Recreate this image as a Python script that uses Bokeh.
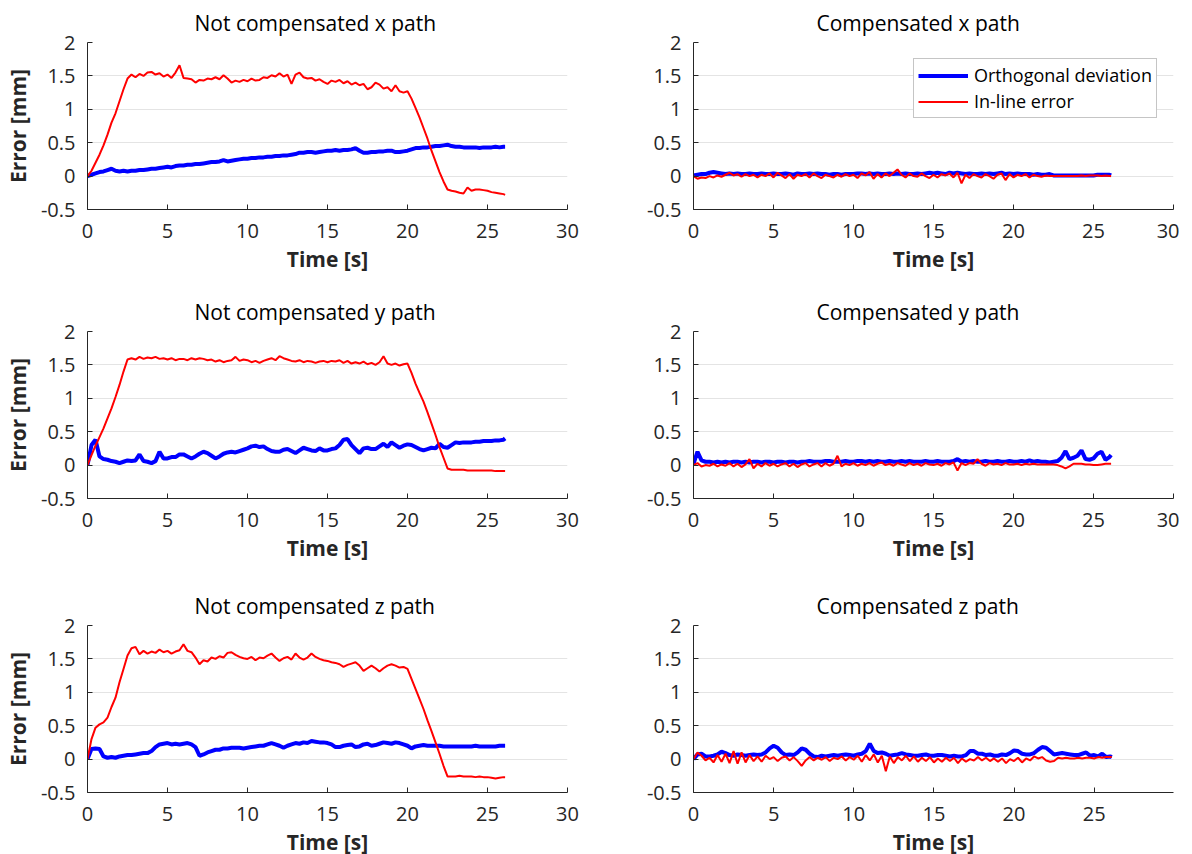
from bokeh.plotting import figure
from bokeh.layouts import column, row
from bokeh.models import Range1d, FixedTicker
from bokeh.embed import file_html
from bokeh.resources import INLINE

T = [0.0, 0.25, 0.5, 0.75, 1.0, 1.25, 1.5, 1.75, 2.0, 2.25, 2.5, 2.75,
     3.0, 3.25, 3.5, 3.75, 4.0, 4.25, 4.5, 4.75, 5.0, 5.25, 5.5, 5.75,
     6.0, 6.25, 6.5, 6.75, 7.0, 7.25, 7.5, 7.75, 8.0, 8.25, 8.5, 8.75,
     9.0, 9.25, 9.5, 9.75, 10.0, 10.25, 10.5, 10.75, 11.0, 11.25, 11.5, 11.75,
     12.0, 12.25, 12.5, 12.75, 13.0, 13.25, 13.5, 13.75, 14.0, 14.25, 14.5, 14.75,
     15.0, 15.25, 15.5, 15.75, 16.0, 16.25, 16.5, 16.75, 17.0, 17.25, 17.5, 17.75,
     18.0, 18.25, 18.5, 18.75, 19.0, 19.25, 19.5, 19.75, 20.0, 20.25, 20.5, 20.75,
     21.0, 21.25, 21.5, 21.75, 22.0, 22.25, 22.5, 22.75, 23.0, 23.25, 23.5, 23.75,
     24.0, 24.25, 24.5, 24.75, 25.0, 25.25, 25.5, 25.75, 26.0, 26.1]

X_TICKS = [0, 5, 10, 15, 20, 25, 30]
X_TICKS_LAST = [0, 5, 10, 15, 20, 25]
Y_TICKS = [-0.5, 0, 0.5, 1, 1.5, 2]
Y_LABELS = {-0.5: "-0.5", 0: "0", 0.5: "0.5", 1: "1", 1.5: "1.5", 2: "2"}

TITLES = ["Not compensated x path", "Compensated x path",
          "Not compensated y path", "Compensated y path",
          "Not compensated z path", "Compensated z path"]
SERIES_NAMES = ["Orthogonal deviation", "In-line error"]

# Not compensated x
nx_orth = [0.00, 0.02, 0.04, 0.06, 0.07, 0.09, 0.11, 0.08, 0.07, 0.08, 0.07, 0.08,
           0.08, 0.09, 0.09, 0.10, 0.11, 0.11, 0.12, 0.13, 0.14, 0.13, 0.15, 0.16,
           0.16, 0.17, 0.17, 0.18, 0.18, 0.19, 0.20, 0.21, 0.21, 0.22, 0.24, 0.22,
           0.23, 0.24, 0.25, 0.26, 0.26, 0.27, 0.27, 0.28, 0.28, 0.29, 0.29, 0.30,
           0.30, 0.31, 0.31, 0.32, 0.33, 0.35, 0.35, 0.36, 0.36, 0.35, 0.36, 0.37,
           0.38, 0.38, 0.39, 0.38, 0.39, 0.39, 0.40, 0.42, 0.38, 0.35, 0.35, 0.36,
           0.36, 0.37, 0.37, 0.38, 0.38, 0.36, 0.36, 0.37, 0.38, 0.40, 0.42, 0.42,
           0.43, 0.43, 0.44, 0.45, 0.45, 0.46, 0.47, 0.45, 0.44, 0.44, 0.43, 0.43,
           0.43, 0.43, 0.42, 0.43, 0.43, 0.43, 0.44, 0.43, 0.44, 0.44]
nx_inline = [0.00, 0.08, 0.20, 0.32, 0.46, 0.62, 0.80, 0.94, 1.12, 1.30, 1.46, 1.52,
             1.48, 1.53, 1.50, 1.55, 1.56, 1.52, 1.54, 1.49, 1.52, 1.47, 1.55, 1.66,
             1.47, 1.46, 1.45, 1.40, 1.44, 1.43, 1.46, 1.45, 1.48, 1.45, 1.51, 1.46,
             1.40, 1.43, 1.41, 1.44, 1.42, 1.46, 1.43, 1.44, 1.48, 1.47, 1.51, 1.49,
             1.54, 1.49, 1.52, 1.38, 1.52, 1.55, 1.48, 1.46, 1.47, 1.43, 1.45, 1.41,
             1.38, 1.43, 1.41, 1.44, 1.39, 1.42, 1.37, 1.40, 1.36, 1.38, 1.30, 1.33,
             1.40, 1.37, 1.31, 1.33, 1.27, 1.36, 1.27, 1.25, 1.27, 1.16, 1.02, 0.88,
             0.72, 0.56, 0.38, 0.22, 0.06, -0.08, -0.20, -0.22, -0.23, -0.25, -0.26, -0.17,
             -0.22, -0.20, -0.20, -0.21, -0.22, -0.24, -0.25, -0.26, -0.27, -0.28]

# Compensated x
cx_orth = [0.01, 0.02, 0.03, 0.03, 0.05, 0.06, 0.05, 0.04, 0.03, 0.04, 0.03, 0.04,
           0.03, 0.03, 0.04, 0.03, 0.03, 0.04, 0.03, 0.03, 0.04, 0.03, 0.03, 0.04,
           0.03, 0.02, 0.04, 0.03, 0.03, 0.04, 0.03, 0.04, 0.03, 0.03, 0.02, 0.03,
           0.03, 0.02, 0.03, 0.03, 0.03, 0.04, 0.04, 0.03, 0.04, 0.03, 0.04, 0.03,
           0.03, 0.04, 0.03, 0.04, 0.03, 0.04, 0.03, 0.03, 0.04, 0.03, 0.04, 0.05,
           0.04, 0.05, 0.04, 0.03, 0.05, 0.04, 0.05, 0.04, 0.03, 0.04, 0.03, 0.03,
           0.04, 0.03, 0.04, 0.03, 0.04, 0.05, 0.03, 0.04, 0.03, 0.04, 0.03, 0.03,
           0.03, 0.02, 0.03, 0.02, 0.02, 0.03, 0.01, 0.01, 0.01, 0.01, 0.01, 0.01,
           0.01, 0.01, 0.01, 0.01, 0.01, 0.02, 0.02, 0.02, 0.02, 0.01]
cx_inline = [0.00, -0.04, -0.02, -0.03, 0.00, -0.02, 0.01, -0.01, 0.02, 0.05, 0.01, 0.03,
             -0.01, 0.03, 0.00, 0.02, -0.02, 0.02, 0.00, 0.04, -0.02, 0.05, 0.01, -0.03,
             0.03, -0.04, 0.02, 0.00, 0.03, -0.02, 0.04, 0.00, -0.03, 0.02, 0.00, -0.02,
             0.02, -0.01, 0.03, 0.00, 0.02, -0.03, 0.04, 0.01, 0.06, -0.04, 0.03, -0.02,
             0.04, 0.00, 0.05, 0.10, 0.02, -0.02, 0.04, 0.00, -0.01, 0.04, 0.00, -0.03,
             0.02, -0.02, 0.03, 0.01, 0.04, -0.02, 0.05, -0.11, 0.02, -0.03, 0.03, 0.00,
             -0.02, 0.03, 0.00, -0.04, 0.02, 0.04, -0.06, 0.03, -0.02, 0.02, 0.00, 0.03,
             -0.02, 0.02, 0.00, -0.01, 0.01, 0.00, 0.00, 0.00, 0.00, 0.00, 0.00, 0.00,
             0.00, 0.01, 0.00, 0.01, 0.01, 0.01, 0.00, 0.01, 0.00, 0.00]

# Not compensated y
ny_orth = [0.00, 0.30, 0.38, 0.13, 0.09, 0.08, 0.06, 0.05, 0.03, 0.05, 0.07, 0.06,
           0.07, 0.16, 0.06, 0.05, 0.03, 0.06, 0.20, 0.10, 0.10, 0.12, 0.12, 0.16,
           0.16, 0.13, 0.10, 0.13, 0.17, 0.20, 0.18, 0.14, 0.10, 0.13, 0.17, 0.19,
           0.20, 0.19, 0.21, 0.23, 0.25, 0.28, 0.29, 0.27, 0.28, 0.24, 0.21, 0.20,
           0.20, 0.23, 0.24, 0.21, 0.18, 0.22, 0.26, 0.24, 0.22, 0.21, 0.25, 0.22,
           0.22, 0.24, 0.25, 0.30, 0.38, 0.39, 0.30, 0.24, 0.18, 0.25, 0.26, 0.24,
           0.24, 0.28, 0.32, 0.27, 0.34, 0.30, 0.26, 0.29, 0.31, 0.30, 0.27, 0.24,
           0.22, 0.24, 0.26, 0.25, 0.32, 0.27, 0.26, 0.30, 0.34, 0.33, 0.34, 0.34,
           0.34, 0.35, 0.35, 0.36, 0.36, 0.36, 0.37, 0.37, 0.38, 0.40]
ny_inline = [0.00, 0.15, 0.29, 0.42, 0.55, 0.70, 0.85, 1.02, 1.20, 1.40, 1.58, 1.60,
             1.58, 1.62, 1.59, 1.61, 1.60, 1.62, 1.59, 1.60, 1.58, 1.60, 1.57, 1.59,
             1.59, 1.57, 1.60, 1.58, 1.60, 1.59, 1.57, 1.58, 1.55, 1.57, 1.54, 1.56,
             1.57, 1.62, 1.56, 1.58, 1.57, 1.54, 1.56, 1.53, 1.56, 1.58, 1.60, 1.57,
             1.63, 1.60, 1.58, 1.56, 1.55, 1.57, 1.54, 1.56, 1.55, 1.53, 1.55, 1.56,
             1.54, 1.56, 1.55, 1.57, 1.53, 1.56, 1.52, 1.54, 1.52, 1.55, 1.51, 1.53,
             1.50, 1.54, 1.63, 1.52, 1.50, 1.52, 1.49, 1.51, 1.52, 1.38, 1.22, 1.08,
             0.95, 0.79, 0.62, 0.45, 0.27, 0.11, -0.05, -0.07, -0.07, -0.07, -0.07, -0.08,
             -0.08, -0.08, -0.08, -0.08, -0.08, -0.08, -0.09, -0.09, -0.09, -0.09]

# Compensated y
cy_orth = [0.02, 0.20, 0.07, 0.05, 0.05, 0.04, 0.05, 0.04, 0.05, 0.04, 0.05, 0.05,
           0.04, 0.05, 0.04, 0.05, 0.05, 0.04, 0.05, 0.05, 0.04, 0.05, 0.05, 0.04,
           0.05, 0.05, 0.04, 0.05, 0.05, 0.06, 0.05, 0.05, 0.05, 0.06, 0.06, 0.05,
           0.05, 0.05, 0.06, 0.05, 0.05, 0.06, 0.06, 0.05, 0.06, 0.05, 0.06, 0.05,
           0.05, 0.06, 0.05, 0.05, 0.06, 0.05, 0.06, 0.05, 0.05, 0.05, 0.06, 0.05,
           0.05, 0.06, 0.05, 0.05, 0.05, 0.06, 0.09, 0.05, 0.06, 0.05, 0.06, 0.05,
           0.05, 0.06, 0.05, 0.05, 0.06, 0.05, 0.05, 0.06, 0.05, 0.05, 0.06, 0.05,
           0.07, 0.05, 0.06, 0.05, 0.05, 0.04, 0.05, 0.06, 0.11, 0.21, 0.09, 0.11,
           0.14, 0.22, 0.09, 0.08, 0.10, 0.17, 0.20, 0.08, 0.12, 0.15]
cy_inline = [0.00, 0.03, -0.02, 0.00, -0.01, 0.02, -0.02, 0.01, -0.01, 0.03, -0.02, 0.02,
             -0.03, 0.01, 0.09, -0.05, 0.02, -0.02, 0.03, -0.01, 0.02, -0.02, 0.01, 0.03,
             -0.02, 0.02, -0.03, 0.01, 0.03, -0.02, 0.01, 0.03, -0.02, 0.03, -0.01, 0.02,
             0.14, -0.02, 0.02, 0.00, 0.03, -0.01, 0.02, 0.00, 0.03, -0.01, 0.02, 0.04,
             0.00, 0.02, -0.01, 0.03, 0.01, -0.01, 0.03, 0.00, 0.02, -0.01, 0.03, 0.01,
             0.00, 0.02, -0.01, 0.03, 0.01, 0.04, -0.08, 0.03, 0.00, 0.03, 0.02, 0.09,
             0.02, -0.01, 0.03, 0.01, 0.02, 0.00, 0.03, 0.01, 0.01, 0.02, 0.00, 0.02,
             0.01, 0.02, 0.01, 0.01, 0.01, 0.01, 0.01, 0.00, -0.02, -0.05, -0.02, 0.02,
             0.02, 0.02, 0.01, 0.01, 0.00, 0.00, 0.01, 0.02, 0.02, 0.02]

# Not compensated z
nz_orth = [0.00, 0.15, 0.16, 0.15, 0.04, 0.02, 0.03, 0.02, 0.04, 0.05, 0.06, 0.06,
           0.07, 0.08, 0.09, 0.09, 0.12, 0.18, 0.22, 0.23, 0.24, 0.22, 0.23, 0.22,
           0.23, 0.24, 0.22, 0.18, 0.05, 0.07, 0.10, 0.12, 0.14, 0.14, 0.16, 0.16,
           0.17, 0.17, 0.17, 0.16, 0.17, 0.18, 0.19, 0.20, 0.20, 0.22, 0.24, 0.22,
           0.20, 0.17, 0.20, 0.22, 0.24, 0.23, 0.25, 0.24, 0.27, 0.26, 0.25, 0.25,
           0.24, 0.22, 0.18, 0.18, 0.20, 0.21, 0.22, 0.18, 0.19, 0.22, 0.23, 0.20,
           0.21, 0.23, 0.25, 0.24, 0.23, 0.25, 0.24, 0.22, 0.20, 0.16, 0.19, 0.20,
           0.21, 0.20, 0.20, 0.20, 0.20, 0.19, 0.19, 0.19, 0.19, 0.19, 0.19, 0.19,
           0.19, 0.20, 0.19, 0.19, 0.19, 0.19, 0.19, 0.20, 0.20, 0.20]
nz_inline = [0.00, 0.30, 0.47, 0.52, 0.55, 0.62, 0.78, 0.92, 1.15, 1.35, 1.55, 1.66,
             1.68, 1.57, 1.62, 1.58, 1.61, 1.59, 1.64, 1.60, 1.62, 1.58, 1.61, 1.63,
             1.72, 1.62, 1.60, 1.52, 1.42, 1.48, 1.46, 1.52, 1.50, 1.54, 1.52, 1.59,
             1.60, 1.56, 1.53, 1.51, 1.50, 1.53, 1.48, 1.52, 1.51, 1.55, 1.58, 1.52,
             1.47, 1.51, 1.53, 1.49, 1.58, 1.52, 1.49, 1.52, 1.58, 1.53, 1.50, 1.48,
             1.47, 1.45, 1.44, 1.42, 1.38, 1.41, 1.43, 1.45, 1.40, 1.32, 1.36, 1.40,
             1.36, 1.31, 1.36, 1.40, 1.42, 1.40, 1.37, 1.38, 1.35, 1.20, 1.05, 0.90,
             0.75, 0.58, 0.42, 0.25, 0.08, -0.10, -0.26, -0.26, -0.26, -0.25, -0.26, -0.26,
             -0.26, -0.27, -0.26, -0.27, -0.27, -0.28, -0.29, -0.28, -0.27, -0.27]

# Compensated z
cz_orth = [0.00, 0.07, 0.08, 0.04, 0.04, 0.05, 0.07, 0.11, 0.09, 0.06, 0.05, 0.07,
           0.06, 0.05, 0.06, 0.07, 0.06, 0.07, 0.10, 0.16, 0.20, 0.17, 0.10, 0.06,
           0.07, 0.06, 0.10, 0.16, 0.14, 0.08, 0.04, 0.03, 0.05, 0.04, 0.05, 0.06,
           0.05, 0.06, 0.07, 0.06, 0.05, 0.07, 0.08, 0.12, 0.23, 0.12, 0.09, 0.10,
           0.08, 0.05, 0.06, 0.07, 0.09, 0.07, 0.06, 0.05, 0.05, 0.06, 0.07, 0.05,
           0.05, 0.06, 0.06, 0.05, 0.04, 0.05, 0.04, 0.04, 0.06, 0.12, 0.12, 0.08,
           0.08, 0.06, 0.07, 0.05, 0.05, 0.07, 0.06, 0.09, 0.13, 0.12, 0.08, 0.07,
           0.07, 0.09, 0.14, 0.18, 0.17, 0.12, 0.07, 0.08, 0.09, 0.08, 0.07, 0.06,
           0.06, 0.08, 0.10, 0.05, 0.06, 0.04, 0.08, 0.03, 0.04, 0.03]
cz_inline = [0.00, 0.10, 0.05, -0.02, 0.02, -0.05, 0.06, -0.04, 0.08, -0.06, 0.12, -0.07,
             0.10, -0.05, 0.06, -0.03, 0.04, -0.04, 0.05, 0.00, 0.03, -0.03, 0.02, 0.04,
             -0.02, 0.03, -0.03, -0.10, -0.02, 0.03, -0.02, 0.02, -0.01, 0.03, -0.03, 0.02,
             0.00, 0.04, -0.02, 0.03, -0.01, 0.05, -0.04, 0.06, -0.02, 0.07, -0.05, 0.05,
             -0.18, 0.04, -0.06, 0.03, -0.02, 0.05, -0.03, 0.04, -0.04, 0.02, -0.03, 0.03,
             -0.05, 0.01, -0.04, 0.02, -0.03, 0.02, -0.06, 0.01, -0.04, 0.00, -0.02, 0.03,
             -0.02, 0.02, -0.03, 0.01, -0.04, 0.01, -0.06, 0.00, -0.03, 0.02, -0.05, 0.01,
             -0.02, 0.04, 0.01, 0.03, -0.02, -0.04, -0.03, 0.02, 0.01, 0.02, 0.01, 0.01,
             0.02, 0.01, 0.02, 0.02, 0.01, 0.03, 0.02, 0.03, 0.03, 0.03]

FONT = "Open Sans"
DARK = "#262626"
BLUE = "#0000ff"
RED = "#ff0000"


def make(idx, orth, inline):
    col = idx % 2
    rw = idx // 2
    last = idx == 5
    p = figure(frame_width=480, frame_height=167,
               x_range=Range1d(0, 29.95 if last else 30), y_range=Range1d(-0.5, 2),
               output_backend="svg", toolbar_location=None,
               min_border_left=81 if col == 0 else 91,
               min_border_right=35 if col == 0 else 6,
               min_border_top=30,
               min_border_bottom=[80, 85, 20][rw],
               background_fill_color="white", border_fill_color="white",
               title=TITLES[idx])
    p.outline_line_color = None
    p.title.align = "left"
    p.title.offset = 107 if col == 0 else 123
    p.title.standoff = 12
    p.title.text_font = FONT
    p.title.text_font_size = "21px"
    p.title.text_font_style = "normal"
    p.title.text_color = "#000000"

    p.xaxis.ticker = FixedTicker(ticks=X_TICKS_LAST if last else X_TICKS)
    p.yaxis.ticker = FixedTicker(ticks=Y_TICKS)
    p.yaxis.major_label_overrides = Y_LABELS
    for ax in (p.xaxis[0], p.yaxis[0]):
        ax.axis_line_color = DARK
        ax.axis_line_width = 1
        ax.major_tick_line_color = DARK
        ax.major_tick_in = 5
        ax.major_tick_out = 0
        ax.minor_tick_line_color = None
        ax.major_label_text_font = FONT
        ax.major_label_text_font_size = "20px"
        ax.major_label_text_color = DARK
        ax.axis_label_text_font = FONT
        ax.axis_label_text_font_size = "21px"
        ax.axis_label_text_font_style = "bold"
        ax.axis_label_text_color = DARK
    p.xaxis.major_label_standoff = 14
    p.yaxis.major_label_standoff = 12
    p.xaxis.axis_label = "Time [s]"
    p.xaxis.axis_label_standoff = 4
    if col == 0:
        p.yaxis.axis_label = "Error [mm]"
        p.yaxis.axis_label_standoff = 6
    p.xgrid.visible = False
    p.ygrid.grid_line_color = "#e4e4e4"
    p.ygrid.grid_line_width = 1

    if idx == 1:
        p.line(T, orth, line_color=BLUE, line_width=4, legend_label=SERIES_NAMES[0])
        p.line(T, inline, line_color=RED, line_width=2, legend_label=SERIES_NAMES[1])
        lg = p.legend[0]
        lg.location = "top_right"
        lg.margin = 16
        lg.padding = 4
        lg.spacing = 2
        lg.glyph_width = 50
        lg.glyph_height = 21
        lg.label_height = 21
        lg.label_standoff = 6
        lg.label_text_font = FONT
        lg.label_text_font_size = "18px"
        lg.label_text_color = "#000000"
        lg.border_line_color = "#8c8c8c"
        lg.border_line_width = 1
        lg.background_fill_color = "white"
        lg.background_fill_alpha = 1
    else:
        p.line(T, orth, line_color=BLUE, line_width=4)
        p.line(T, inline, line_color=RED, line_width=2)
    return p


DATA = [(nx_orth, nx_inline), (cx_orth, cx_inline),
        (ny_orth, ny_inline), (cy_orth, cy_inline),
        (nz_orth, nz_inline), (cz_orth, cz_inline)]
figs = [make(i, o, l) for i, (o, l) in enumerate(DATA)]
layout = column(row(figs[0], figs[1]), row(figs[2], figs[3]), row(figs[4], figs[5]))

open("out.html", "w").write(file_html(layout, INLINE))
